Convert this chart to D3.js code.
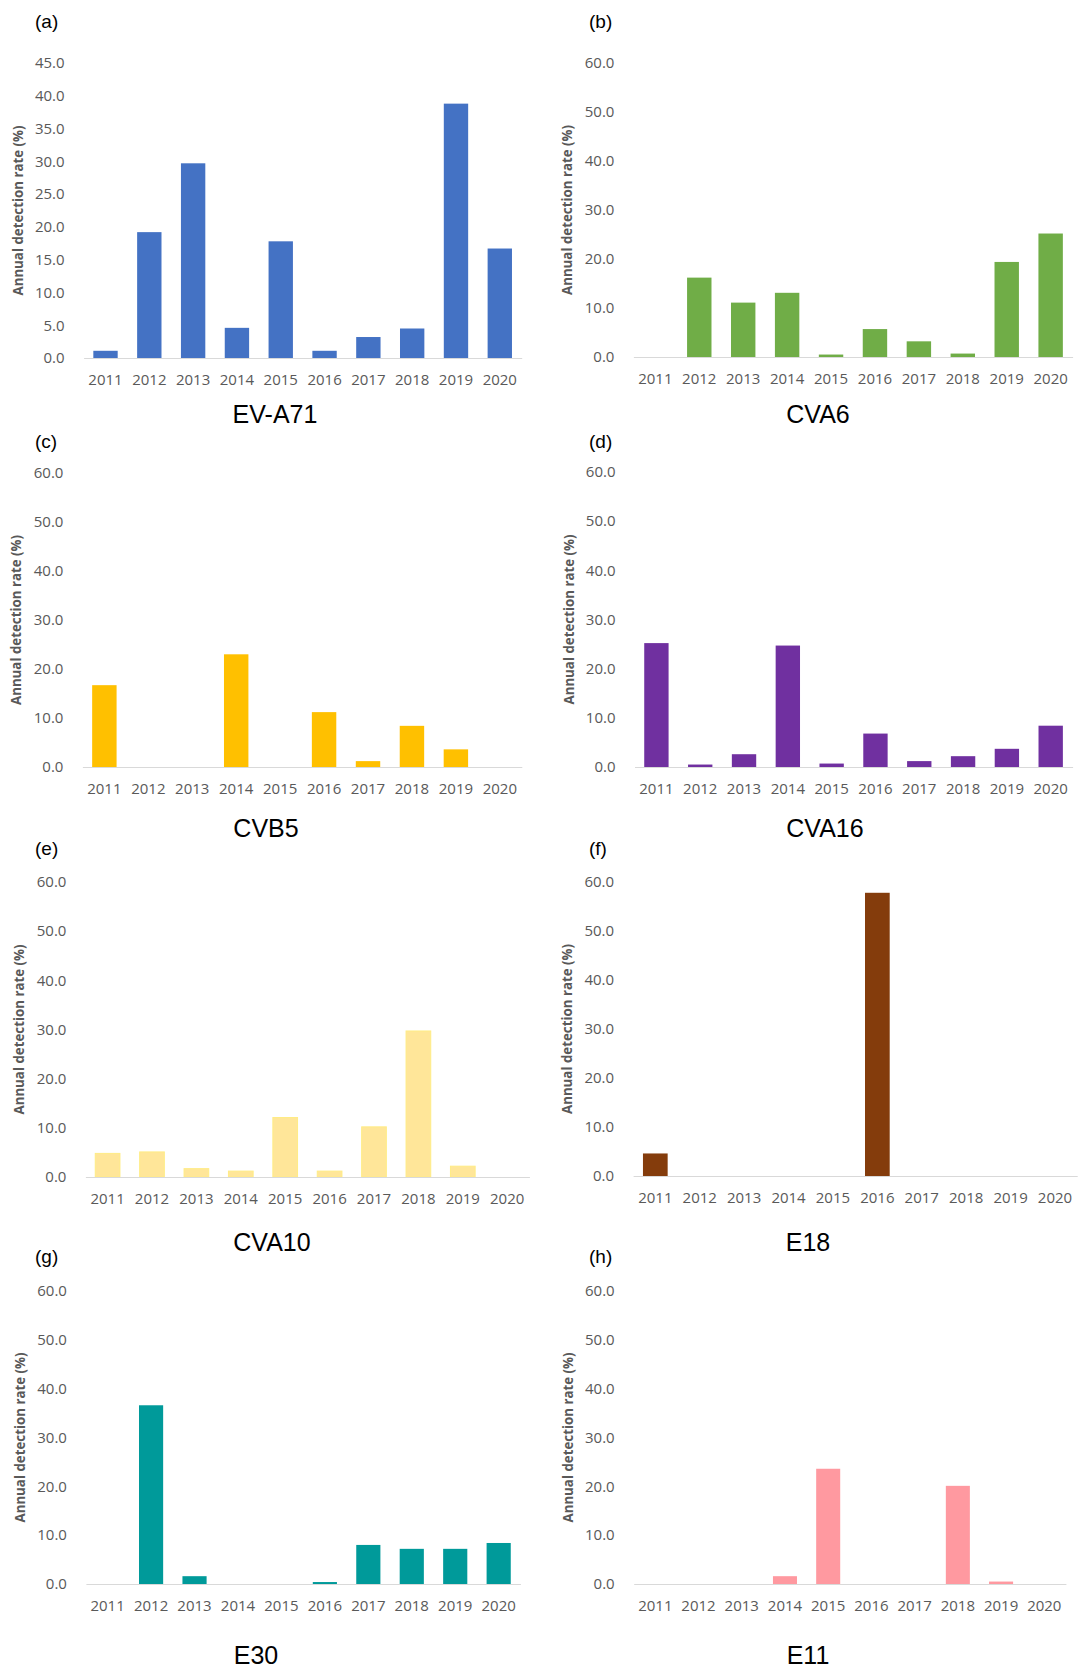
<!DOCTYPE html>
<html>
<head>
<meta charset="utf-8">
<script src="https://cdn.jsdelivr.net/npm/d3@7"></script>
<style>
  html, body { margin: 0; padding: 0; background: #ffffff; }
  svg { display: block; }
</style>
</head>
<body>
<svg id="chart" width="1089" height="1670"></svg>
<script>
// Annual detection rate (%) of enterovirus types, 2011-2020
const years = ["2011", "2012", "2013", "2014", "2015", "2016", "2017", "2018", "2019", "2020"];

const evA71 = [1.1, 19.2, 29.7, 4.6, 17.8, 1.1, 3.2, 4.5, 38.8, 16.7];
const cva6  = [0, 16.2, 11.1, 13.1, 0.5, 5.7, 3.2, 0.7, 19.4, 25.2];
const cvb5  = [16.7, 0, 0, 23.0, 0, 11.2, 1.2, 8.4, 3.6, 0];
const cva16 = [25.2, 0.5, 2.6, 24.7, 0.7, 6.8, 1.2, 2.2, 3.7, 8.4];
const cva10 = [4.8, 5.1, 1.7, 1.2, 12.1, 1.2, 10.2, 29.7, 2.2, 0];
const e18   = [4.6, 0, 0, 0, 0, 57.8, 0, 0, 0, 0];
const e30   = [0, 36.6, 1.6, 0, 0, 0.4, 8.0, 7.2, 7.2, 8.4];
const e11   = [0, 0, 0, 1.6, 23.6, 0, 0, 20.1, 0.5, 0];

const panelTags   = ["(a)", "(b)", "(c)", "(d)", "(e)", "(f)", "(g)", "(h)"];
const panelTitles = ["EV-A71", "CVA6", "CVB5", "CVA16", "CVA10", "E18", "E30", "E11"];
const panelSeries = [evA71, cva6, cvb5, cva16, cva10, e18, e30, e11];
const panelMax    = [45, 60, 60, 60, 60, 60, 60, 60];
const panelStep   = [5, 10, 10, 10, 10, 10, 10, 10];
const yAxisTitle  = "Annual detection rate (%)";

// fill and outline per panel
const fills   = ["#4472C4", "#70AD47", "#FFC000", "#7030A0", "#FFE699", "#843C0C", "#009A9A", "#FF99A0"];
const strokes = [null, null, null, null, "#FFEC85", null, null, null];

// plot boxes: left, right, baseline, top-of-scale, title centre, tag position
const layout = [
  { x0: 83.6,  x1: 521.7,  y0: 358,  yT: 63,   tx: 275, ty: 414,  lx: 35,  ly: 21 },
  { x0: 633.4, x1: 1072.6, y0: 357,  yT: 63,   tx: 818, ty: 414,  lx: 589, ly: 21 },
  { x0: 82.4,  x1: 521.8,  y0: 767,  yT: 473,  tx: 266, ty: 828,  lx: 35,  ly: 441 },
  { x0: 634.5, x1: 1072.6, y0: 767,  yT: 472,  tx: 825, ty: 828,  lx: 589, ly: 441 },
  { x0: 85.4,  x1: 529.4,  y0: 1177, yT: 882,  tx: 272, ty: 1242, lx: 35,  ly: 848 },
  { x0: 633.1, x1: 1077.2, y0: 1176, yT: 882,  tx: 808, ty: 1242, lx: 589, ly: 848 },
  { x0: 85.9,  x1: 520.4,  y0: 1584, yT: 1291, tx: 256, ty: 1655, lx: 35,  ly: 1256 },
  { x0: 633.7, x1: 1065.9, y0: 1584, yT: 1291, tx: 808, ty: 1655, lx: 589, ly: 1256 }
];

const svg = d3.select("#chart");
const tickFont = "'Open Sans', 'Noto Sans', sans-serif";
const titleFont = "'Liberation Sans', Arial, sans-serif";

panelSeries.forEach((values, i) => {
  const L = layout[i];
  const g = svg.append("g");

  const x = d3.scaleBand()
    .domain(years)
    .range([L.x0, L.x1])
    .paddingInner(0.444)
    .paddingOuter(0.222);

  const y = d3.scaleLinear()
    .domain([0, panelMax[i]])
    .range([L.y0, L.yT]);

  const yTicks = d3.range(0, panelMax[i] + 0.001, panelStep[i]);

  // y axis: labels only
  const yAxis = d3.axisLeft(y)
    .tickValues(yTicks)
    .tickFormat(d3.format(".1f"))
    .tickSize(0)
    .tickPadding(19);
  const yg = g.append("g").attr("transform", `translate(${L.x0},0)`).call(yAxis);
  yg.select(".domain").remove();
  yg.selectAll("text")
    .attr("fill", "#595959")
    .style("font-family", tickFont)
    .style("font-size", "15px");

  // bars
  g.append("g").selectAll("rect")
    .data(values)
    .join("rect")
    .attr("x", (d, k) => x(years[k]))
    .attr("width", x.bandwidth())
    .attr("y", d => y(d))
    .attr("height", d => y(0) - y(d))
    .attr("fill", fills[i])
    .attr("stroke", d => (strokes[i] && d > 0) ? strokes[i] : "none")
    .attr("stroke-width", 1);

  // x axis: baseline and year labels
  const xAxis = d3.axisBottom(x).tickSize(0).tickPadding(16);
  const xg = g.append("g").attr("transform", `translate(0,${L.y0})`).call(xAxis);
  xg.select(".domain").attr("stroke", "#D9D9D9").attr("stroke-width", 1.2);
  xg.selectAll("text")
    .attr("fill", "#595959")
    .style("font-family", tickFont)
    .style("font-size", "15px");

  // rotated y-axis title
  g.append("text")
    .attr("transform", `translate(${L.x0 - 61},${(L.y0 + L.yT) / 2}) rotate(-90)`)
    .attr("text-anchor", "middle")
    .attr("fill", "#595959")
    .style("font-family", tickFont)
    .style("font-weight", "bold")
    .style("font-size", "13.3px")
    .text(yAxisTitle);

  // panel tag
  g.append("text")
    .attr("x", L.lx)
    .attr("y", L.ly)
    .attr("dy", "0.35em")
    .attr("fill", "#000")
    .style("font-family", titleFont)
    .style("font-size", "19px")
    .text(panelTags[i]);

  // virus type title
  g.append("text")
    .attr("x", L.tx)
    .attr("y", L.ty)
    .attr("dy", "0.35em")
    .attr("text-anchor", "middle")
    .attr("fill", "#000")
    .style("font-family", titleFont)
    .style("font-size", "25px")
    .text(panelTitles[i]);
});
</script>
</body>
</html>
